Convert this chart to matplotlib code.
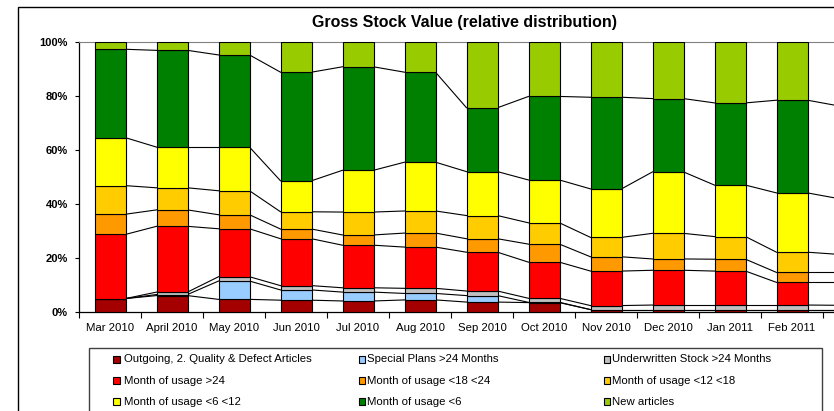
import matplotlib
matplotlib.use("Agg")
import matplotlib.pyplot as plt
import numpy as np
from matplotlib.patches import Rectangle

plt.rcParams['font.family'] = ['Liberation Sans', 'DejaVu Sans']

# categories (the last one is cut off by the right edge of the picture)
months = ["Mar 2010", "April 2010", "May 2010", "Jun 2010", "Jul 2010", "Aug 2010",
          "Sep 2010", "Oct 2010", "Nov 2010", "Dec 2010", "Jan 2011", "Feb 2011", "Mar 2011"]

# share of gross stock value per bucket, in percent
outgoing = [4.8, 5.9, 4.5, 4.2, 3.9, 4.3, 3.5, 3.3, 0.7, 0.7, 0.7, 0.7, 0.7]
special_plans = [0.0, 0.4, 6.8, 3.8, 3.3, 2.4, 2.4, 0.1, 0.0, 0.0, 0.0, 0.0, 0.0]
underwritten = [0.0, 0.9, 1.6, 1.6, 1.6, 1.9, 1.7, 1.5, 1.5, 1.7, 1.7, 1.7, 1.6]
usage_gt24 = [23.8, 24.4, 17.8, 17.4, 15.8, 15.3, 14.4, 13.4, 12.8, 12.9, 12.6, 8.4, 8.5]
usage_18_24 = [7.5, 6.1, 5.2, 3.6, 3.8, 5.2, 5.0, 6.7, 5.3, 4.2, 4.4, 3.7, 3.7]
usage_12_18 = [10.6, 8.2, 8.9, 6.4, 8.5, 8.2, 8.6, 7.9, 7.2, 9.5, 8.4, 7.5, 6.7]
usage_6_12 = [17.8, 15.1, 16.2, 11.5, 15.5, 18.1, 16.3, 15.9, 18.0, 22.8, 19.1, 22.0, 20.7]
usage_lt6 = [32.8, 35.9, 34.2, 40.3, 38.4, 33.4, 23.7, 31.0, 34.0, 27.2, 30.5, 34.4, 34.4]
new_articles = [2.7, 3.1, 4.8, 11.2, 9.2, 11.2, 24.4, 20.2, 20.5, 21.0, 22.6, 21.6, 23.7]

series = [
    ("Outgoing, 2. Quality & Defect Articles", outgoing, "#A50000"),
    ("Special Plans >24 Months", special_plans, "#99CCFF"),
    ("Underwritten Stock >24 Months", underwritten, "#C0C0C0"),
    ("Month of usage >24", usage_gt24, "#FF0000"),
    ("Month of usage <18 <24", usage_18_24, "#FF9900"),
    ("Month of usage <12 <18", usage_12_18, "#FFCC00"),
    ("Month of usage <6 <12", usage_6_12, "#FFFF00"),
    ("Month of usage <6", usage_lt6, "#008000"),
    ("New articles", new_articles, "#99CC00"),
]

W, H = 834, 411
fig = plt.figure(figsize=(W / 100, H / 100), dpi=100)

# plot area is wider than the picture: the right part is cropped like the original
ax = fig.add_axes([79 / W, 99.5 / H, 806 / W, 269.5 / H])

values = np.array([s[1] for s in series], dtype=float)
values = values / values.sum(axis=0) * 100  # relative distribution
cum = np.cumsum(values, axis=0)
bottoms = cum - values
x = np.arange(len(months))
bw = 0.5

for k, (name, _, color) in enumerate(series):
    ax.bar(x, values[k], bottom=bottoms[k], width=bw, color=color,
           edgecolor="black", linewidth=0.8, zorder=3)

# series lines between the bars
for k in range(len(series) - 1):
    for i in range(len(x) - 1):
        ax.plot([x[i] + bw / 2, x[i + 1] - bw / 2], [cum[k, i], cum[k, i + 1]],
                color="black", lw=0.8, zorder=2)

ax.set_xlim(-0.5, len(months) - 0.5)
ax.set_ylim(0, 100)

ax.set_yticks(range(0, 101, 20))
ax.set_yticklabels([f"{v}%" for v in range(0, 101, 20)], fontweight="bold", fontsize=8)
ax.tick_params(axis="y", direction="out", length=3, width=0.8, pad=5)

ax.set_xticks(np.arange(-0.5, len(months), 1))
ax.set_xticklabels([])
ax.tick_params(axis="x", which="major", direction="out", length=4, width=0.8)
ax.set_xticks(x, minor=True)
ax.set_xticklabels(months, minor=True, fontsize=8.2)
ax.tick_params(axis="x", which="minor", length=0, pad=8)
# the label of the cropped last category is not visible in the original
ax.get_xticklabels(minor=True)[-1].set_visible(False)

ax.spines["top"].set_color("#808080")
ax.spines["right"].set_visible(False)
for side in ["left", "bottom"]:
    ax.spines[side].set_color("black")
    ax.spines[side].set_linewidth(0.9)

# title
fig.text(465 / W, 1 - 22 / H, "Gross Stock Value (relative distribution)",
         ha="center", va="center", fontsize=11.5, fontweight="bold")

# chart area border (cropped at right and bottom)
fig.patches.append(Rectangle((18 / W, -0.1), 2.0, 1.1 - 7 / H, transform=fig.transFigure,
                             fill=False, edgecolor="black", lw=1))

# legend box
fig.patches.append(Rectangle((89.3 / W, -0.1), (821.7 - 89.3) / W, 0.1 + (H - 348.3) / H,
                             transform=fig.transFigure, fill=False, edgecolor="#404040", lw=1))

marker_x = [116.5, 362, 607]
text_x = [124, 367.3, 612]
row_y = [359.3, 380.7, 401.7]
msize = 6.5
for k, (name, _, color) in enumerate(series):
    r, c = k // 3, k % 3
    fig.patches.append(Rectangle(((marker_x[c] - msize / 2) / W, 1 - (row_y[r] + msize / 2) / H),
                                 msize / W, msize / H, transform=fig.transFigure,
                                 facecolor=color, edgecolor="black", lw=0.8))
    fig.text(text_x[c] / W, 1 - row_y[r] / H, name, ha="left", va="center", fontsize=8.2)

fig.savefig("out.png", dpi=100)
